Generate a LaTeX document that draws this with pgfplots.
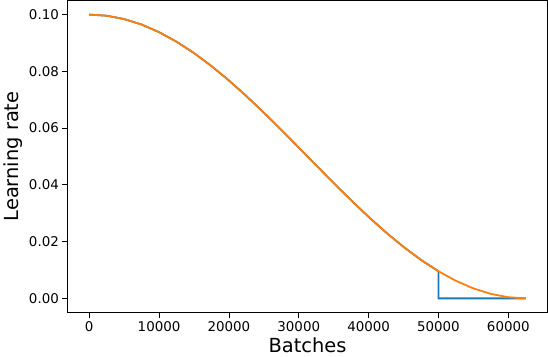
\documentclass[border=0pt]{standalone}
\usepackage{fontspec}
\setmainfont{DejaVu Sans}
\usepackage{pgfplots}
\pgfplotsset{compat=1.18}
\definecolor{mplblue}{HTML}{1F77B4}
\definecolor{mplorange}{HTML}{FF7F0E}

\begin{document}
\begin{tikzpicture}
\begin{axis}[
  scale only axis,
  width=480pt, height=312pt,
  xmin=-3125, xmax=65625,
  ymin=-0.005, ymax=0.105,
  xtick={0,10000,20000,30000,40000,50000,60000},
  ytick={0,0.02,0.04,0.06,0.08,0.1},
  tick align=outside, tick pos=left,
  major tick length=5pt,
  tick style={black, line width=0.8pt},
  axis line style={line width=0.8pt},
  ticklabel style={font=\fontsize{13.4}{16}\selectfont},
  label style={font=\fontsize{19.4}{23}\selectfont},
  xlabel={Batches}, ylabel={Learning rate},
  /pgf/number format/assume math mode=true,
  x tick label style={/pgf/number format/1000 sep={}},
  y tick label style={/pgf/number format/.cd, fixed, fixed zerofill, precision=2},
  scaled ticks=false,
]
% step schedule: cosine, cut to zero at 50000
\addplot[mplblue, line width=1.8pt] coordinates {
  (0,0.100000) (2500,0.099606) (5000,0.098429) (7500,0.096489)
  (10000,0.093815) (12500,0.090451) (15000,0.086448) (17500,0.081871)
  (20000,0.076791) (22500,0.071289) (25000,0.065451) (27500,0.059369)
  (30000,0.053140) (32500,0.046860) (35000,0.040631) (37500,0.034549)
  (40000,0.028711) (42500,0.023209) (45000,0.018129) (47500,0.013552)
  (50000,0.009549) (50000,0.000000) (62500,0.000000)
};
% full cosine
\addplot[mplorange, line width=1.8pt] coordinates {
  (0,0.100000) (2500,0.099606) (5000,0.098429) (7500,0.096489)
  (10000,0.093815) (12500,0.090451) (15000,0.086448) (17500,0.081871)
  (20000,0.076791) (22500,0.071289) (25000,0.065451) (27500,0.059369)
  (30000,0.053140) (32500,0.046860) (35000,0.040631) (37500,0.034549)
  (40000,0.028711) (42500,0.023209) (45000,0.018129) (47500,0.013552)
  (50000,0.009549) (52500,0.006185) (55000,0.003511) (57500,0.001571)
  (60000,0.000394) (62500,0.000000)
};
\end{axis}
\end{tikzpicture}
\end{document}
